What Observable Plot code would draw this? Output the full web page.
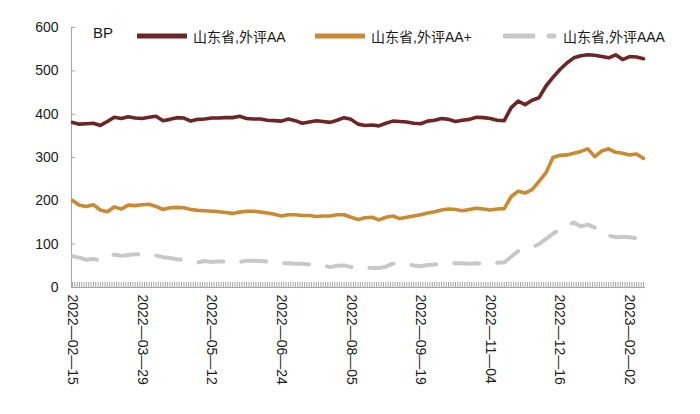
<!DOCTYPE html>
<html>
<head>
<meta charset="utf-8">
<script src="https://cdn.jsdelivr.net/npm/d3@7"></script>
<script src="https://cdn.jsdelivr.net/npm/@observablehq/plot@0.6"></script>
<style>
  html, body { margin: 0; padding: 0; background: #fff; }
  #wrap { position: relative; width: 700px; height: 414px; font-family: "Liberation Sans", Arial, "Noto Sans CJK SC", sans-serif; }
  #legend { position: absolute; top: 25px; left: 0; width: 700px; height: 22px; font-size: 14px; color: #1a1a1a; }
  .item { position: absolute; top: 0; display: flex; align-items: center; height: 22px; white-space: nowrap; }
  .item svg { margin-right: 6px; }
  #bp { position: absolute; left: 93px; top: 24px; font-size: 15px; color: #1a1a1a; }
</style>
</head>
<body>
<div id="wrap"></div>
<script>
// ---- data (trading-day series, sampled every 3 trading days) ----
const seriesNames = ["山东省,外评AA", "山东省,外评AA+", "山东省,外评AAA"];
const seriesColors = ["#6e2525", "#c98a33", "#c8c8c8"];
const step = 3;          // trading days between stored values
const totalDays = 247;   // trading days on the axis
const tickEvery = 30;    // trading days between date labels
const tickLabels = ["2022-02-15","2022-03-29","2022-05-12","2022-06-24","2022-08-05","2022-09-19","2022-11-04","2022-12-16","2023-02-02"];
const yTicks = [0, 100, 200, 300, 400, 500, 600];

const aa = [381,377,378,379,374,383,393,390,394,391,390,393,395,385,388,392,391,384,388,389,
  391,391,392,392,395,390,389,389,386,385,384,389,385,379,382,385,383,381,386,392,
  388,377,374,375,373,379,384,383,382,379,378,384,386,390,388,383,386,388,393,392,
  390,386,385,415,430,422,432,438,465,485,503,518,530,535,537,536,533,530,537,526,
  533,532,528];
const aaPlus = [201,190,187,191,179,175,186,181,190,189,191,192,187,180,184,185,184,180,178,177,
  176,175,173,171,174,176,176,174,172,169,165,168,168,166,166,164,165,165,168,168,
  162,157,161,162,156,162,165,159,162,165,168,172,175,179,181,180,177,180,183,181,
  179,181,182,210,222,218,226,245,265,300,305,306,310,314,320,302,315,320,312,310,
  306,308,298];
const aaa = [72,69,64,66,62,70,76,73,75,77,76,76,74,70,68,65,64,60,58,61,
  59,60,60,60,59,62,62,61,60,58,56,56,55,55,53,52,51,47,50,51,
  47,48,47,45,45,48,55,54,53,51,49,52,53,55,55,56,56,55,56,55,
  56,57,58,71,84,88,93,100,112,124,135,143,150,141,145,138,124,120,116,117,
  116,114,102];

// ---- layout ----
const W = 700, H = 414, mL = 72, mR = 57, mT = 27, mB = 127;
const plotW = W - mL - mR, plotH = H - mT - mB;
const axisGray = "#a6a6a6";

const toRows = arr => arr.map((v, k) => ({i: k * step, v}));
const allIdx = d3.range(0, totalDays);
const labelIdx = tickLabels.map((_, k) => k * tickEvery);

const plot = Plot.plot({
  width: W, height: H,
  marginLeft: mL, marginRight: mR, marginTop: mT, marginBottom: mB,
  style: {fontFamily: '"Liberation Sans", Arial, sans-serif', fontSize: "14px", color: "#1a1a1a", background: "#fff", overflow: "visible"},
  x: {type: "linear", domain: [0, totalDays - 1]},
  y: {domain: [0, 600]},
  marks: [
    Plot.axisY(yTicks, {tickSize: 0, tickPadding: 14, fontSize: 14, label: null}),
    Plot.axisX(labelIdx, {tickSize: 0, tickRotate: 90, tickPadding: 7, fontSize: 14, label: null,
      tickFormat: i => tickLabels[i / tickEvery].replace(/-/g, "\u2014")}),
    Plot.tickX(allIdx, {x: d => d, insetTop: plotH - 5, stroke: axisGray, strokeWidth: 1}),
    Plot.tickY(yTicks, {y: d => d, insetRight: plotW - 3, stroke: axisGray}),
    Plot.ruleY([0], {stroke: axisGray, insetLeft: -1, insetRight: -2}),
    Plot.ruleX([0], {stroke: axisGray, dx: -1}),
    Plot.line(toRows(aaa), {x: "i", y: "v", stroke: seriesColors[2], strokeWidth: 4, strokeLinecap: "round", strokeLinejoin: "round", strokeDasharray: "25,18"}),
    Plot.line(toRows(aaPlus), {x: "i", y: "v", stroke: seriesColors[1], strokeWidth: 3.6, strokeLinejoin: "round"}),
    Plot.line(toRows(aa), {x: "i", y: "v", stroke: seriesColors[0], strokeWidth: 3.6, strokeLinejoin: "round"})
  ]
});

const wrap = document.getElementById("wrap");
wrap.appendChild(plot);

// legend overlay
const legend = document.createElement("div");
legend.id = "legend";
const lx = [137, 315, 503];
seriesNames.forEach((name, k) => {
  const it = document.createElement("div");
  it.className = "item";
  it.style.left = lx[k] + "px";
  const sw = k === 2
    ? `<svg width="54" height="8"><line x1="2" y1="4" x2="30" y2="4" stroke="${seriesColors[k]}" stroke-width="5" stroke-linecap="round"/><line x1="46" y1="4" x2="51" y2="4" stroke="${seriesColors[k]}" stroke-width="5" stroke-linecap="round"/></svg>`
    : `<svg width="50" height="8"><line x1="0" y1="4" x2="50" y2="4" stroke="${seriesColors[k]}" stroke-width="5"/></svg>`;
  it.innerHTML = sw + `<span>${name}</span>`;
  legend.appendChild(it);
});
wrap.appendChild(legend);
const bp = document.createElement("div");
bp.id = "bp";
bp.textContent = "BP";
wrap.appendChild(bp);
</script>
</body>
</html>
